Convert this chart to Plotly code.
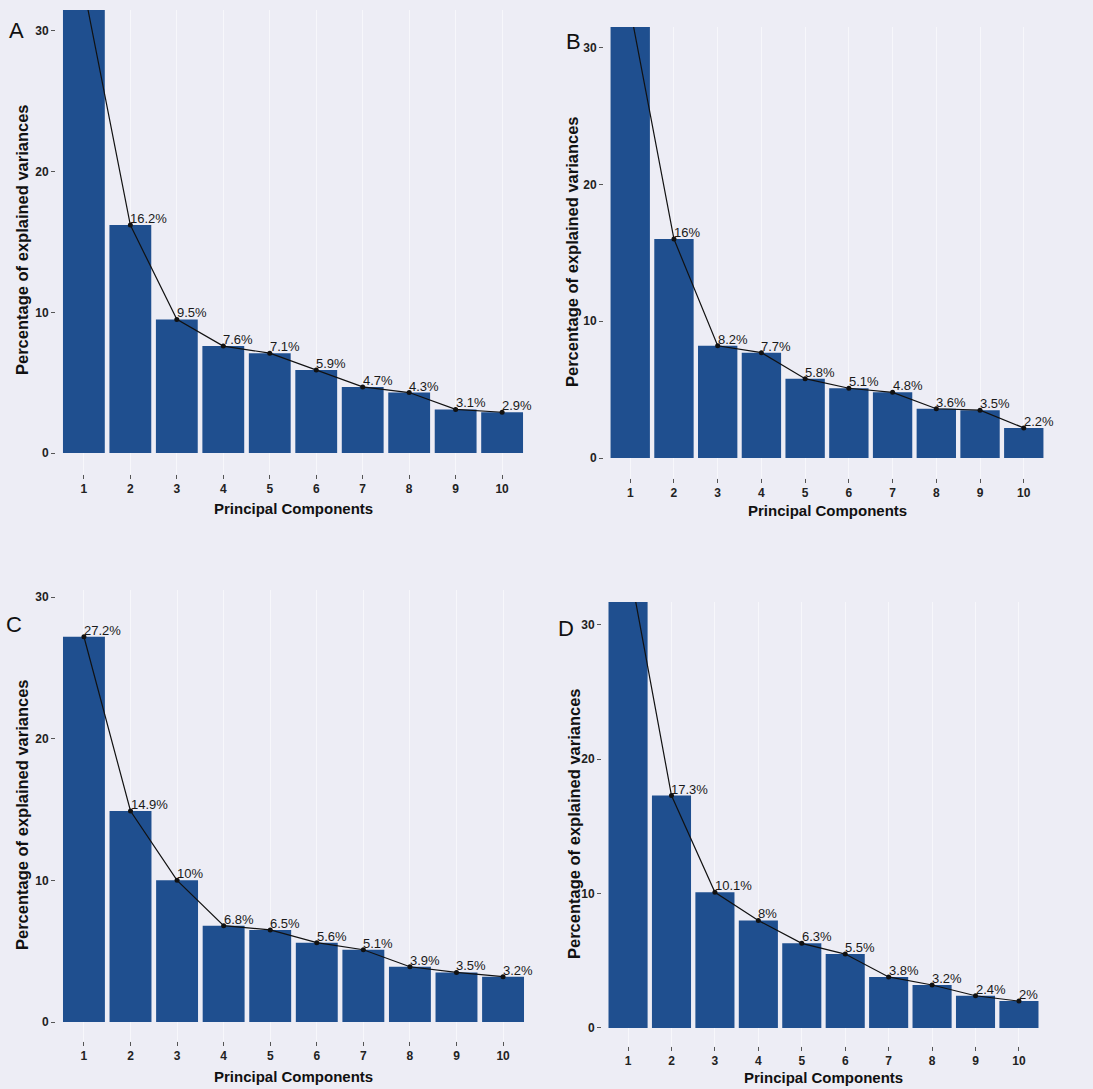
import plotly.graph_objects as go

W, H = 1093, 1089

components = [str(i) for i in range(1, 11)]
variance_A = [33.0, 16.2, 9.5, 7.6, 7.1, 5.9, 4.7, 4.3, 3.1, 2.9]
variance_B = [32.8, 16.0, 8.2, 7.7, 5.8, 5.1, 4.8, 3.6, 3.5, 2.2]
variance_C = [27.2, 14.9, 10.0, 6.8, 6.5, 5.6, 5.1, 3.9, 3.5, 3.2]
variance_D = [34.8, 17.3, 10.1, 8.0, 6.3, 5.5, 3.8, 3.2, 2.4, 2.0]
panel_letters = ["A", "B", "C", "D"]
y_ticks = [0, 10, 20, 30]
x_title = "Principal Components"
y_title = "Percentage of explained variances"

BG = "#ededf5"
BAR = "#1f4f8f"
FONT = "Liberation Sans, Arial"

# panel geometry in page pixels: (left, right, top, bottom, y_low, y_high)
panels = [
    (variance_A, (56, 530, 10, 474, -1.49, 31.49), (16, 30), (22, 240), (293, 508)),
    (variance_B, (604, 1050, 27, 478, -1.46, 31.5), (573, 42), (572, 252), (827, 510)),
    (variance_C, (56, 531, 590, 1041, -1.34, 30.5), (14, 624), (22, 815), (293, 1076)),
    (variance_D, (602, 1045, 602, 1046, -1.34, 31.7), (566, 628), (574, 824), (823, 1077)),
]

fig = go.Figure()
layout = {}
annotations = []


def fx(px):
    return px / W


def fy(py):
    return 1 - py / H


for i, (vals, geo, letter_pos, ytitle_pos, xtitle_pos) in enumerate(panels):
    n = i + 1
    xa = "x" if n == 1 else f"x{n}"
    ya = "y" if n == 1 else f"y{n}"
    left, right, top, bottom, ylo, yhi = geo
    fig.add_trace(go.Bar(
        x=components, y=vals, xaxis=xa, yaxis=ya,
        marker=dict(color=BAR, line=dict(width=0)), width=0.9,
        showlegend=False, hoverinfo="skip",
    ))
    fig.add_trace(go.Scatter(
        x=components, y=vals, xaxis=xa, yaxis=ya,
        mode="lines+markers",
        line=dict(color="#111111", width=1.2),
        marker=dict(color="#111111", size=5),
        cliponaxis=True, showlegend=False, hoverinfo="skip",
    ))
    # value labels; those above the visible (cropped) panel are not shown, as in the reference
    for k, v in enumerate(vals):
        if v < yhi - 1:
            annotations.append(dict(
                text=f"{v:g}%", x=k, y=v, xref=xa, yref=ya, showarrow=False,
                xanchor="left", yanchor="bottom", xshift=-2, yshift=-3,
                font=dict(family=FONT, size=13, color="#1a1a1a"),
            ))
    xkey = "xaxis" if n == 1 else f"xaxis{n}"
    ykey = "yaxis" if n == 1 else f"yaxis{n}"
    layout[xkey] = dict(
        domain=[fx(left), fx(right)], anchor=ya, type="category",
        range=[-0.6, 9.6], showgrid=True, gridcolor="#f7f7fb", gridwidth=1,
        showline=False, zeroline=False, ticks="outside", ticklen=4,
        tickcolor="#555555", tickwidth=1,
        tickfont=dict(family=FONT, size=12, color="#222222", weight="bold"),
    )
    layout[ykey] = dict(
        domain=[fy(bottom), fy(top)], anchor=xa,
        range=[ylo, yhi], tickvals=y_ticks, showgrid=False,
        showline=False, zeroline=False, ticks="outside", ticklen=4,
        tickcolor="#555555", tickwidth=1,
        tickfont=dict(family=FONT, size=12, color="#222222", weight="bold"),
    )
    annotations.append(dict(
        text=panel_letters[i], x=fx(letter_pos[0]), y=fy(letter_pos[1]),
        xref="paper", yref="paper", showarrow=False, xanchor="center", yanchor="middle",
        font=dict(family=FONT, size=22, color="#111111"),
    ))
    annotations.append(dict(
        text=y_title, x=fx(ytitle_pos[0]), y=fy(ytitle_pos[1]),
        xref="paper", yref="paper", showarrow=False, textangle=-90,
        xanchor="center", yanchor="middle",
        font=dict(family=FONT, size=16.5, color="#111111", weight="bold"),
    ))
    annotations.append(dict(
        text=x_title, x=fx(xtitle_pos[0]), y=fy(xtitle_pos[1]),
        xref="paper", yref="paper", showarrow=False,
        xanchor="center", yanchor="middle",
        font=dict(family=FONT, size=15, color="#111111", weight="bold"),
    ))

fig.update_layout(
    width=W, height=H, margin=dict(l=0, r=0, t=0, b=0),
    paper_bgcolor=BG, plot_bgcolor=BG, bargap=0.1,
    annotations=annotations, **layout,
)

fig.write_html(
    "out.html",
    config={"displayModeBar": False},
    post_script="document.body.style.margin='0';document.body.style.overflow='hidden';",
)
